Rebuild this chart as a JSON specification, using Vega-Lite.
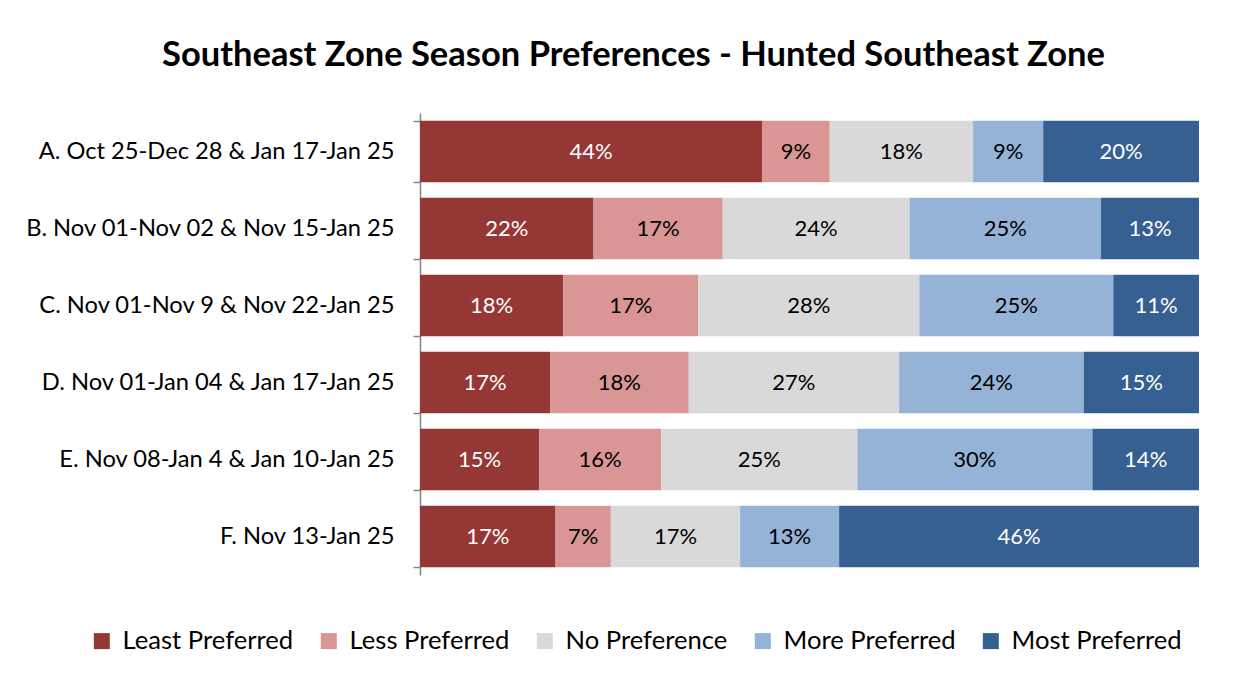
{
  "$schema": "https://vega.github.io/schema/vega-lite/v6.json",
  "autosize": {"type": "none"},
  "width": 779,
  "height": 462,
  "padding": {"left": 420, "top": 113, "right": 55, "bottom": 100},
  "background": "white",
  "title": {
    "text": "Southeast Zone Season Preferences - Hunted Southeast Zone",
    "font": "Lato",
    "fontSize": 34.5,
    "fontWeight": "bold",
    "color": "black",
    "anchor": "middle",
    "dx": -176,
    "offset": 28
  },
  "data": {
    "values": [
      {"season": "A. Oct 25-Dec 28 & Jan 17-Jan 25", "pref": "Least Preferred", "k": 1, "share": 0.439},
      {"season": "A. Oct 25-Dec 28 & Jan 17-Jan 25", "pref": "Less Preferred", "k": 2, "share": 0.087},
      {"season": "A. Oct 25-Dec 28 & Jan 17-Jan 25", "pref": "No Preference", "k": 3, "share": 0.184},
      {"season": "A. Oct 25-Dec 28 & Jan 17-Jan 25", "pref": "More Preferred", "k": 4, "share": 0.090},
      {"season": "A. Oct 25-Dec 28 & Jan 17-Jan 25", "pref": "Most Preferred", "k": 5, "share": 0.200},
      {"season": "B. Nov 01-Nov 02 & Nov 15-Jan 25", "pref": "Least Preferred", "k": 1, "share": 0.223},
      {"season": "B. Nov 01-Nov 02 & Nov 15-Jan 25", "pref": "Less Preferred", "k": 2, "share": 0.166},
      {"season": "B. Nov 01-Nov 02 & Nov 15-Jan 25", "pref": "No Preference", "k": 3, "share": 0.240},
      {"season": "B. Nov 01-Nov 02 & Nov 15-Jan 25", "pref": "More Preferred", "k": 4, "share": 0.246},
      {"season": "B. Nov 01-Nov 02 & Nov 15-Jan 25", "pref": "Most Preferred", "k": 5, "share": 0.126},
      {"season": "C. Nov 01-Nov 9 & Nov 22-Jan 25", "pref": "Least Preferred", "k": 1, "share": 0.184},
      {"season": "C. Nov 01-Nov 9 & Nov 22-Jan 25", "pref": "Less Preferred", "k": 2, "share": 0.173},
      {"season": "C. Nov 01-Nov 9 & Nov 22-Jan 25", "pref": "No Preference", "k": 3, "share": 0.284},
      {"season": "C. Nov 01-Nov 9 & Nov 22-Jan 25", "pref": "More Preferred", "k": 4, "share": 0.249},
      {"season": "C. Nov 01-Nov 9 & Nov 22-Jan 25", "pref": "Most Preferred", "k": 5, "share": 0.110},
      {"season": "D. Nov 01-Jan 04 & Jan 17-Jan 25", "pref": "Least Preferred", "k": 1, "share": 0.167},
      {"season": "D. Nov 01-Jan 04 & Jan 17-Jan 25", "pref": "Less Preferred", "k": 2, "share": 0.178},
      {"season": "D. Nov 01-Jan 04 & Jan 17-Jan 25", "pref": "No Preference", "k": 3, "share": 0.270},
      {"season": "D. Nov 01-Jan 04 & Jan 17-Jan 25", "pref": "More Preferred", "k": 4, "share": 0.237},
      {"season": "D. Nov 01-Jan 04 & Jan 17-Jan 25", "pref": "Most Preferred", "k": 5, "share": 0.148},
      {"season": "E. Nov 08-Jan 4 & Jan 10-Jan 25", "pref": "Least Preferred", "k": 1, "share": 0.153},
      {"season": "E. Nov 08-Jan 4 & Jan 10-Jan 25", "pref": "Less Preferred", "k": 2, "share": 0.157},
      {"season": "E. Nov 08-Jan 4 & Jan 10-Jan 25", "pref": "No Preference", "k": 3, "share": 0.252},
      {"season": "E. Nov 08-Jan 4 & Jan 10-Jan 25", "pref": "More Preferred", "k": 4, "share": 0.302},
      {"season": "E. Nov 08-Jan 4 & Jan 10-Jan 25", "pref": "Most Preferred", "k": 5, "share": 0.137},
      {"season": "F. Nov 13-Jan 25", "pref": "Least Preferred", "k": 1, "share": 0.174},
      {"season": "F. Nov 13-Jan 25", "pref": "Less Preferred", "k": 2, "share": 0.071},
      {"season": "F. Nov 13-Jan 25", "pref": "No Preference", "k": 3, "share": 0.166},
      {"season": "F. Nov 13-Jan 25", "pref": "More Preferred", "k": 4, "share": 0.127},
      {"season": "F. Nov 13-Jan 25", "pref": "Most Preferred", "k": 5, "share": 0.462}
    ]
  },
  "encoding": {
    "y": {
      "field": "season",
      "type": "nominal",
      "title": null,
      "scale": {"paddingInner": 0.2, "paddingOuter": 0.1},
      "axis": {
        "labelFont": "Lato",
        "labelFontSize": 23.7,
        "labelColor": "black",
        "labelPadding": 19,
        "labelLimit": 500,
        "domainColor": "#868686",
        "domainWidth": 1.5,
        "tickColor": "#868686",
        "tickWidth": 1.5,
        "tickSize": 7,
        "tickBand": "extent"
      }
    },
    "x": {
      "field": "share",
      "type": "quantitative",
      "stack": "normalize",
      "axis": null
    },
    "order": {"field": "k", "type": "quantitative"}
  },
  "layer": [
    {
      "mark": {"type": "bar"},
      "encoding": {
        "color": {
          "field": "pref",
          "type": "nominal",
          "title": null,
          "scale": {
            "domain": ["Least Preferred", "Less Preferred", "No Preference", "More Preferred", "Most Preferred"],
            "range": ["#953735", "#D99694", "#D9D9D9", "#95B3D7", "#376092"]
          },
          "legend": {
            "orient": "none",
            "direction": "horizontal",
            "legendX": -331,
            "legendY": 515,
            "symbolType": "square",
            "symbolSize": 256,
            "symbolStrokeWidth": 0,
            "symbolOpacity": 1,
            "labelFont": "Lato",
            "labelFontSize": 25.6,
            "labelColor": "black",
            "labelOffset": 8,
            "labelLimit": 400,
            "columnPadding": 22
          }
        }
      }
    },
    {
      "mark": {"type": "text", "font": "Lato", "fontSize": 22, "baseline": "middle", "align": "center"},
      "encoding": {
        "x": {
          "field": "share",
          "type": "quantitative",
          "stack": "normalize",
          "bandPosition": 0.5
        },
        "text": {"field": "share", "type": "quantitative", "format": ".0%"},
        "color": {
          "condition": {"test": "datum.pref === 'Least Preferred' || datum.pref === 'Most Preferred'", "value": "white"},
          "value": "black"
        }
      }
    }
  ],
  "config": {"view": {"stroke": null}}
}
